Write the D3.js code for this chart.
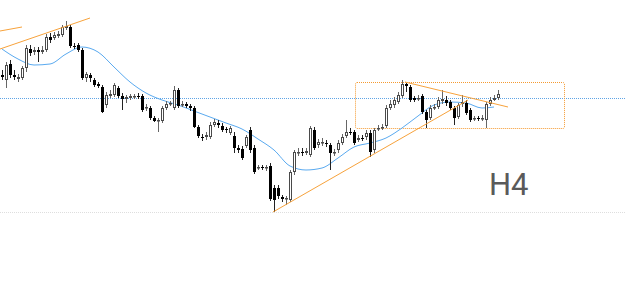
<!DOCTYPE html>
<html lang="en"><head>
<meta charset="utf-8">
<title>H4</title>
<script src="https://cdn.jsdelivr.net/npm/d3@7"></script>
<style>
  html, body { margin: 0; padding: 0; background: #fff; }
  svg { display: block; }
</style>
</head>
<body>
<script type="text/javascript">

var width = 625;
var height = 288;

// H4 candles
var opens = [1.1225,1.1220,1.1236,1.1225,1.1221,1.1222,1.1232,1.1251,1.1248,1.1250,
  1.1248,1.1250,1.1263,1.1262,1.1264,1.1265,1.1272,1.1273,1.1254,1.1255,
  1.1250,1.1222,1.1225,1.1220,1.1216,1.1213,1.1195,1.1204,1.1205,1.1212,
  1.1204,1.1201,1.1202,1.1203,1.1204,1.1204,1.1192,1.1192,1.1182,1.1179,
  1.1179,1.1192,1.1196,1.1192,1.1210,1.1195,1.1196,1.1194,1.1192,1.1173,
  1.1163,1.1163,1.1163,1.1175,1.1177,1.1174,1.1171,1.1167,1.1164,1.1152,
  1.1151,1.1154,1.1170,1.1152,1.1132,1.1133,1.1132,1.1134,1.1112,1.1112,
  1.1103,1.1101,1.1100,1.1128,1.1147,1.1148,1.1147,1.1145,1.1170,1.1155,
  1.1157,1.1157,1.1155,1.1147,1.1150,1.1157,1.1164,1.1168,1.1168,1.1160,
  1.1162,1.1163,1.1167,1.1150,1.1171,1.1172,1.1174,1.1192,1.1195,1.1198,
  1.1204,1.1216,1.1213,1.1202,1.1201,1.1204,1.1188,1.1182,1.1192,1.1193,
  1.1199,1.1200,1.1198,1.1192,1.1183,1.1196,1.1197,1.1190,1.1181,1.1182,
  1.1181,1.1180,1.1196,1.1200,1.1202];
var highs = [1.1230,1.1238,1.1240,1.1230,1.1226,1.1234,1.1255,1.1255,1.1253,1.1253,
  1.1254,1.1266,1.1267,1.1268,1.1269,1.1275,1.1279,1.1275,1.1257,1.1257,
  1.1252,1.1228,1.1227,1.1222,1.1218,1.1215,1.1208,1.1210,1.1217,1.1214,
  1.1207,1.1205,1.1206,1.1206,1.1207,1.1206,1.1196,1.1194,1.1184,1.1182,
  1.1194,1.1199,1.1199,1.1214,1.1212,1.1199,1.1198,1.1196,1.1194,1.1175,
  1.1166,1.1168,1.1178,1.1181,1.1180,1.1177,1.1173,1.1174,1.1168,1.1155,
  1.1154,1.1165,1.1173,1.1155,1.1135,1.1135,1.1135,1.1137,1.1115,1.1115,
  1.1105,1.1104,1.1130,1.1150,1.1152,1.1152,1.1152,1.1174,1.1173,1.1161,
  1.1162,1.1160,1.1157,1.1151,1.1160,1.1166,1.1180,1.1172,1.1170,1.1165,
  1.1165,1.1170,1.1170,1.1172,1.1175,1.1176,1.1195,1.1200,1.1203,1.1208,
  1.1220,1.1217,1.1215,1.1204,1.1205,1.1206,1.1190,1.1195,1.1196,1.1203,
  1.1210,1.1204,1.1200,1.1194,1.1197,1.1205,1.1200,1.1192,1.1184,1.1184,
  1.1185,1.1198,1.1203,1.1205,1.1210];
var lows = [1.1220,1.1212,1.1222,1.1220,1.1218,1.1220,1.1228,1.1244,1.1245,1.1238,
  1.1246,1.1248,1.1257,1.1260,1.1262,1.1263,1.1270,1.1252,1.1251,1.1248,
  1.1220,1.1218,1.1218,1.1213,1.1212,1.1187,1.1192,1.1202,1.1203,1.1202,
  1.1190,1.1197,1.1200,1.1201,1.1201,1.1188,1.1189,1.1180,1.1178,1.1168,
  1.1177,1.1190,1.1194,1.1190,1.1192,1.1193,1.1192,1.1189,1.1172,1.1162,
  1.1159,1.1160,1.1161,1.1173,1.1172,1.1168,1.1167,1.1165,1.1147,1.1147,
  1.1140,1.1152,1.1147,1.1126,1.1130,1.1130,1.1129,1.1099,1.1088,1.1101,
  1.1098,1.1095,1.1098,1.1125,1.1144,1.1144,1.1145,1.1143,1.1150,1.1152,
  1.1154,1.1153,1.1130,1.1144,1.1147,1.1155,1.1162,1.1165,1.1155,1.1158,
  1.1159,1.1160,1.1143,1.1147,1.1169,1.1170,1.1172,1.1190,1.1192,1.1196,
  1.1202,1.1208,1.1198,1.1198,1.1199,1.1186,1.1172,1.1180,1.1190,1.1191,
  1.1196,1.1194,1.1190,1.1175,1.1181,1.1193,1.1185,1.1178,1.1179,1.1179,
  1.1179,1.1172,1.1194,1.1199,1.1200];
var closes = [1.1223,1.1235,1.1225,1.1223,1.1223,1.1232,1.1252,1.1247,1.1250,1.1248,
  1.1250,1.1263,1.1260,1.1265,1.1266,1.1273,1.1274,1.1254,1.1253,1.1250,
  1.1222,1.1226,1.1222,1.1215,1.1214,1.1188,1.1205,1.1206,1.1215,1.1204,
  1.1201,1.1203,1.1204,1.1204,1.1203,1.1190,1.1193,1.1182,1.1179,1.1180,
  1.1192,1.1196,1.1197,1.1210,1.1194,1.1196,1.1194,1.1192,1.1173,1.1164,
  1.1162,1.1165,1.1175,1.1178,1.1175,1.1170,1.1170,1.1172,1.1152,1.1150,
  1.1142,1.1163,1.1150,1.1128,1.1133,1.1132,1.1133,1.1101,1.1100,1.1104,
  1.1101,1.1102,1.1128,1.1148,1.1148,1.1147,1.1149,1.1172,1.1152,1.1158,
  1.1158,1.1156,1.1147,1.1148,1.1157,1.1163,1.1168,1.1167,1.1157,1.1162,
  1.1161,1.1167,1.1148,1.1170,1.1172,1.1173,1.1192,1.1196,1.1200,1.1205,
  1.1216,1.1214,1.1200,1.1200,1.1202,1.1188,1.1180,1.1192,1.1193,1.1200,
  1.1201,1.1197,1.1192,1.1182,1.1195,1.1198,1.1187,1.1180,1.1182,1.1181,
  1.1182,1.1196,1.1200,1.1202,1.1206];

// moving average, sampled every 4th bar
var maIndex = [0,4,8,12,16,20,24,28,32,36,40,44,48,52,56,60,64,68,72,76,80,84,88,92,96,100,104,108,112,116,120,123];
var maValues = [1.1251,1.1241,1.1235,1.1236,1.1246,1.1253,1.1248,1.1233,1.1218,1.1207,
  1.1200,1.1195,1.1189,1.1183,1.1177,1.1171,1.1161,1.1150,1.1134,1.1130,
  1.1132,1.1142,1.1153,1.1157,1.1162,1.1172,1.1184,1.1195,1.1198,1.1197,
  1.1192,1.1193];

// drawings: [bar index, price]
var trendLines = [
  [[-0.5, 1.1269], [5, 1.1273]],
  [[-0.5, 1.1251], [22, 1.1282]],
  [[67.75, 1.1088], [116.5, 1.1200]],
  [[100.75, 1.1218], [126.5, 1.1193]]
];
var boxIndex = [88.25, 140.5];
var boxPrice = [1.1218, 1.1172];
var levelPrice = 1.12015;
var sepPrice = 1.1088;
var timeframe = "H4";

var candles = opens.map(function(o, i){
    return {i: i, o: o, h: highs[i], l: lows[i], c: closes[i]};
});

var x = d3.scaleLinear().domain([-0.5, 155.75]).range([0, width]);
var y = d3.scaleLinear().domain([1.1300, 1.1012]).range([0, height]);

var svg = d3.select("body").append("svg")
            .attr("width", width)
            .attr("height", height);

// separator + price level
svg.append("line")
    .attr("x1", 0).attr("x2", width)
    .attr("y1", Math.round(y(sepPrice)) + 0.5).attr("y2", Math.round(y(sepPrice)) + 0.5)
    .attr("stroke", "#dedede")
    .attr("stroke-dasharray", "1,1");

svg.append("line")
    .attr("x1", 0).attr("x2", width)
    .attr("y1", Math.round(y(levelPrice)) + 0.5).attr("y2", Math.round(y(levelPrice)) + 0.5)
    .attr("stroke", "#5ea4e6")
    .attr("stroke-dasharray", "1,1");

// box
svg.append("rect")
    .attr("x", Math.round(x(boxIndex[0])) + 0.5)
    .attr("y", Math.round(y(boxPrice[0])) + 0.5)
    .attr("width", Math.round(x(boxIndex[1]) - x(boxIndex[0])))
    .attr("height", Math.round(y(boxPrice[1]) - y(boxPrice[0])))
    .attr("rx", 1.5)
    .attr("fill", "none")
    .attr("stroke", "#f59a30")
    .attr("stroke-dasharray", "1,1");

// moving average
var maLine = d3.line()
    .x(function(d){ return x(d[0]); })
    .y(function(d){ return y(d[1]); })
    .curve(d3.curveMonotoneX);

svg.append("path")
    .datum(maIndex.map(function(d, k){ return [d, maValues[k]]; }))
    .attr("d", maLine)
    .attr("fill", "none")
    .attr("stroke", "#5aaaf0")
    .attr("stroke-width", 1);

// candles
var g = svg.append("g");
g.selectAll("line.wick")
    .data(candles)
    .enter()
    .append("line")
    .attr("class", "wick")
    .attr("x1", function(d){ return x(d.i) + 0.5; })
    .attr("x2", function(d){ return x(d.i) + 0.5; })
    .attr("y1", function(d){ return Math.round(y(d.h)); })
    .attr("y2", function(d){ return Math.round(y(d.l)); })
    .attr("stroke", function(d){ return d.c >= d.o ? "#666" : "#222"; })
    .attr("stroke-width", 1);

g.selectAll("rect.body")
    .data(candles)
    .enter()
    .append("rect")
    .attr("class", "body")
    .attr("x", function(d){ return d.c >= d.o ? x(d.i) - 0.5 : x(d.i) - 1; })
    .attr("width", function(d){ return d.c >= d.o ? 2 : 3; })
    .attr("y", function(d){
        var t = Math.round(y(Math.max(d.o, d.c)));
        return d.c >= d.o ? t + 0.5 : t;
    })
    .attr("height", function(d){
        var hh = Math.max(1, Math.round(y(Math.min(d.o, d.c))) - Math.round(y(Math.max(d.o, d.c))));
        return d.c >= d.o ? Math.max(0.5, hh - 1) : hh;
    })
    .attr("fill", function(d){ return d.c >= d.o ? "#fff" : "#000"; })
    .attr("stroke", function(d){ return d.c >= d.o ? "#4a4a4a" : "none"; })
    .attr("stroke-width", 1);

// trend lines
svg.selectAll("line.trend")
    .data(trendLines)
    .enter()
    .append("line")
    .attr("class", "trend")
    .attr("x1", function(d){ return x(d[0][0]); })
    .attr("y1", function(d){ return y(d[0][1]); })
    .attr("x2", function(d){ return x(d[1][0]); })
    .attr("y2", function(d){ return y(d[1][1]); })
    .attr("stroke", "#f7a23b")
    .attr("stroke-width", 1);

svg.append("text")
    .attr("x", 489)
    .attr("y", 195)
    .attr("font-family", "Roboto, sans-serif")
    .attr("font-size", 31)
    .attr("fill", "#5a5a5a")
    .text(timeframe);

</script>
</body></html>
